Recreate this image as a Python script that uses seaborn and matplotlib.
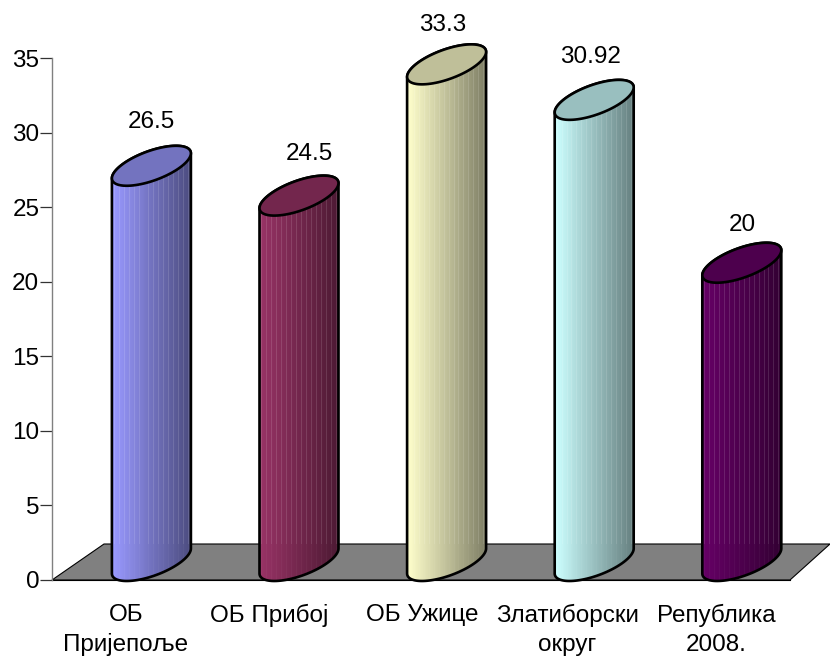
# 3D-style cylinder column chart, drawn on top of a seaborn barplot
import numpy as np
import pandas as pd
import matplotlib
matplotlib.use('Agg')
import matplotlib.pyplot as plt
from matplotlib.patches import Polygon, PathPatch
from matplotlib.path import Path
from matplotlib.transforms import ScaledTranslation
import seaborn as sns

categories = ['ОБ\nПријепоље', 'ОБ Прибој', 'ОБ Ужице', 'Златиборски\nокруг', 'Република\n2008.']
values = [26.5, 24.5, 33.3, 30.92, 20]
value_labels = ['26.5', '24.5', '33.3', '30.92', '20']
colors = ['#9999FF', '#993366', '#FFFFCC', '#CCFFFF', '#660066']
y_ticks = [0, 5, 10, 15, 20, 25, 30, 35]

sns.set_theme(style='white')
plt.rcParams['font.family'] = ['Liberation Sans', 'DejaVu Sans']

W, H = 830, 657
fig = plt.figure(figsize=(W / 100, H / 100), dpi=100)
ax = fig.add_axes([52 / W, (H - 580) / H, 738 / W, 522 / H])

df = pd.DataFrame({'cat': categories, 'val': values})
sns.barplot(data=df, x='cat', y='val', hue='cat', palette=colors, legend=False,
            width=79 / 147.6, saturation=1, ax=ax)
ax.set_xlim(-0.5, 4.5)
ax.set_ylim(0, 35)
ax.set_xlabel('')
ax.set_ylabel('')

# px -> data units
ux = 5 / 738
uy = 35 / 522

depth_x = 25.6 * ux   # bars sit in the middle of the floor depth
floor_h = 36 * uy
tilt = 12.5 * uy      # ellipse rise, left to right
round_y = 15.6 * uy
half_h = np.hypot(tilt, round_y)
drop = 1 * uy

# floor
floor = Polygon([(-0.5, 0), (4.5, 0), (4.5 + 40 * ux, floor_h), (-0.5 + 52 * ux, floor_h)],
                closed=True, fc='#808080', ec='black', lw=0.8, clip_on=False, zorder=1)
ax.add_patch(floor)

t_front = np.linspace(np.pi, 2 * np.pi, 60)
t_back = np.linspace(0, np.pi, 60)
t_all = np.linspace(0, 2 * np.pi, 120)

# label offsets from the top of each column, px
label_dx = [0, 10.5, -4, -4, 1]
label_dy = [63, 61, 58, 62, 57]

for bar, col, lab, dx, dy in zip(ax.patches, colors, value_labels, label_dx, label_dy):
    x0 = bar.get_x() + depth_x
    w = bar.get_width()
    v = bar.get_height()
    cx = x0 + w / 2
    bar.set_x(x0)
    bar.set_edgecolor('none')
    bar.set_zorder(2)

    # outline: along front of bottom ellipse, up the right, over the back of the top ellipse
    cb = half_h - drop
    ct = v + half_h - drop
    bx = cx + w / 2 * np.cos(t_front)
    by = cb + tilt * np.cos(t_front) + round_y * np.sin(t_front)
    tx = cx + w / 2 * np.cos(t_all)
    ty = ct + tilt * np.cos(t_all) + round_y * np.sin(t_all)
    bkx = cx + w / 2 * np.cos(t_back)
    bky = ct + tilt * np.cos(t_back) + round_y * np.sin(t_back)
    verts = np.column_stack([np.r_[bx, bkx], np.r_[by, bky]])
    body = Path(np.vstack([verts, verts[:1]]), closed=True)
    bar.set_clip_path(PathPatch(body, transform=ax.transData))

    # vertical shading bands
    nx = 80
    xe = np.linspace(x0, x0 + w, nx + 1)
    ye = np.array([-3 * uy, floor_h, ct + half_h])
    rgb = np.array(matplotlib.colors.to_rgb(col))
    shade = np.linspace(1.0, 0.5, nx)
    img = np.zeros((2, nx, 3))
    for j in range(nx):
        c = rgb * shade[j]
        img[0, j] = c
        img[1, j] = c
        if j % 5 == 2:
            img[0, j] = c + (1 - c) * 0.03
            img[1, j] = c + (1 - c) * 0.12
    mesh = ax.pcolormesh(xe, ye, img, zorder=3, shading='flat')
    mesh.set_clip_path(PathPatch(body, transform=ax.transData))

    ax.add_patch(PathPatch(body, fc='none', ec='black', lw=1.9, clip_on=False, zorder=4))
    ax.add_patch(Polygon(np.column_stack([tx, ty]), closed=True, fc=rgb * 0.75, ec='black',
                         lw=1.9, clip_on=False, zorder=5))

    ax.annotate(lab, (bar.get_x() + w / 2, v), xytext=(dx * 0.72, dy * 0.72),
                textcoords='offset points', ha='center', va='center',
                fontsize=17.5, color='black', annotation_clip=False, zorder=6)

sns.despine(ax=ax)
ax.spines['left'].set_color('#808080')
ax.spines['left'].set_linewidth(1.0)
ax.spines['bottom'].set_color('black')
ax.spines['bottom'].set_linewidth(0.8)
ax.spines['bottom'].set_zorder(2)

ax.set_yticks(y_ticks)
ax.tick_params(axis='y', left=True, length=8.6, width=0.9, color='#333333', labelsize=17.5,
               labelcolor='black', pad=0.5)
ax.tick_params(axis='x', bottom=False, length=0, labelsize=17.5, labelcolor='black', pad=17.5)
label_shift = [0, -4, 1, -1, 0]
for t, s in zip(ax.get_xticklabels(), label_shift):
    t.set_linespacing(1.38)
    t.set_transform(t.get_transform() + ScaledTranslation(s / 100, 0, fig.dpi_scale_trans))

fig.savefig('out.png', dpi=100)
